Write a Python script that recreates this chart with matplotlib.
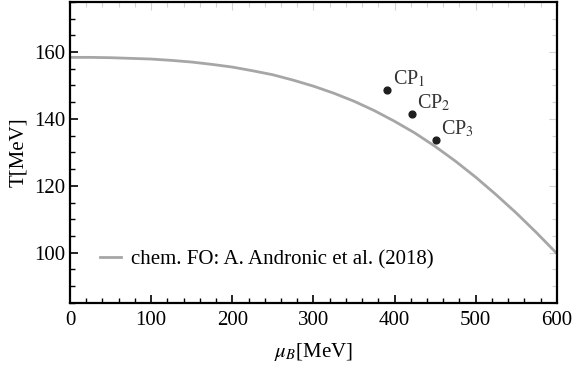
import matplotlib.pyplot as plt
from matplotlib.ticker import MultipleLocator

plt.rcParams['font.family'] = ['Liberation Serif', 'DejaVu Serif']
plt.rcParams['mathtext.fontset'] = 'stix'

# chemical freeze-out line
mu_fo = [0, 25, 50, 75, 100, 125, 150, 175, 200, 225, 250, 275, 300,
         325, 350, 375, 400, 425, 450, 475, 500, 525, 550, 575, 600]
T_fo = [158.4, 158.4, 158.3, 158.1, 157.9, 157.5, 157.0, 156.3, 155.5, 154.4, 153.2, 151.6, 149.8,
        147.7, 145.3, 142.5, 139.3, 135.8, 131.8, 127.4, 122.6, 117.4, 111.9, 106.0, 99.8]

# critical points
cp_names = ['CP$_1$', 'CP$_2$', 'CP$_3$']
cp_mu = [391, 421, 451]
cp_T = [148.6, 141.4, 133.8]

fig = plt.figure(figsize=(5.74, 3.65), dpi=100)
ax = fig.add_axes([0.122, 0.170, 0.848, 0.825])

ax.plot(mu_fo, T_fo, color='#a6a6a6', lw=2, label='chem. FO: A. Andronic et al. (2018)')
ax.scatter(cp_mu, cp_T, s=24, color='#1f1f1f', zorder=3)
for name, m, t in zip(cp_names, cp_mu, cp_T):
    ax.annotate(name, (m, t), xytext=(4, 4), textcoords='offset points',
                fontsize=14.5, color='#333333')

ax.set_xlim(0, 600)
ax.set_ylim(85, 175)
ax.xaxis.set_major_locator(MultipleLocator(100))
ax.xaxis.set_minor_locator(MultipleLocator(20))
ax.yaxis.set_major_locator(MultipleLocator(20))
ax.yaxis.set_minor_locator(MultipleLocator(5))

ax.tick_params(which='both', direction='in', labelsize=15, color='black',
               top=True, right=True)
ax.tick_params(which='major', length=6, width=1.2)
ax.tick_params(which='minor', length=3.5, width=1.0)
ax.tick_params(axis='x', pad=6)

for sp in ax.spines.values():
    sp.set_linewidth(1.6)

ax.set_xlabel(r'$\mu_B$[MeV]', fontsize=15, labelpad=8)
ax.set_ylabel('T[MeV]', fontsize=15, labelpad=4)

ax.legend(loc='center left', bbox_to_anchor=(0.062, 0.144), frameon=False, fontsize=15,
          handlelength=1.0, handletextpad=0.5, borderpad=0, borderaxespad=0)

# faint ticks on top and right (set after the ticks exist)
fig.canvas.draw()
for axis in (ax.xaxis, ax.yaxis):
    for tick in axis.get_major_ticks() + axis.get_minor_ticks():
        tick.tick2line.set_markeredgecolor('#d4d4d4')
        tick.tick2line.set_markeredgewidth(0.8)

fig.savefig('out.png', dpi=100)
